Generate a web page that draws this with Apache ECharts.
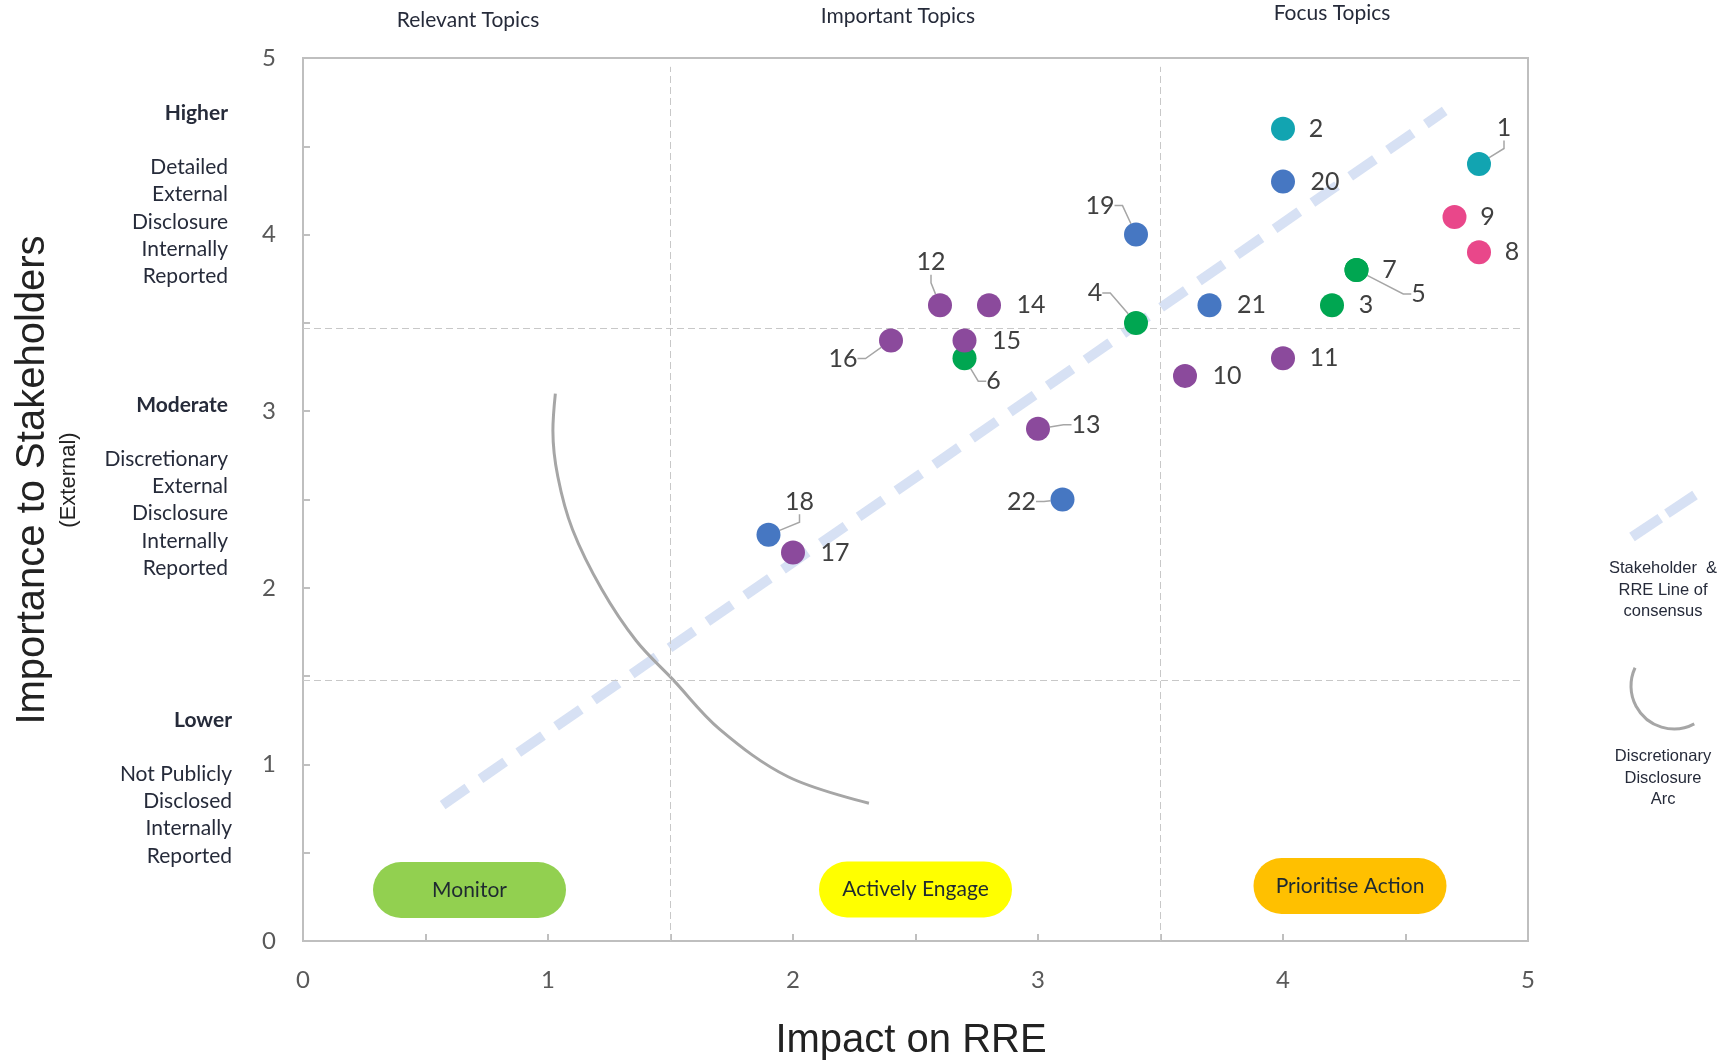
<!DOCTYPE html>
<html>
<head>
<meta charset="utf-8">
<title>Materiality matrix</title>
<script src="https://cdn.jsdelivr.net/npm/echarts@6.0.0/dist/echarts.min.js"></script>
<style>
  html, body { margin: 0; padding: 0; background: #fff; }
  #chart { width: 1726px; height: 1064px; }
</style>
</head>
<body>
<div id="chart"></div>
<script>
// topics
const topicIds   = [1, 2, 3, 4, 5, 6, 7, 8, 9, 10, 11, 12, 13, 14, 15, 16, 17, 18, 19, 20, 21, 22]
const impact     = [4.8, 4.0, 4.2, 3.4, 4.3, 2.7, 4.3, 4.8, 4.7, 3.6, 4.0, 2.6, 3.0, 2.8, 2.7, 2.4, 2.0, 1.9, 3.4, 4.0, 3.7, 3.1]
const importance = [4.4, 4.6, 3.6, 3.5, 3.8, 3.3, 3.8, 3.9, 4.1, 3.2, 3.3, 3.6, 2.9, 3.6, 3.4, 3.4, 2.2, 2.3, 4.0, 4.3, 3.6, 2.5]
const topicGroup = ["teal", "teal", "green", "green", "green", "green", "green", "pink", "pink",
    "purple", "purple", "purple", "purple", "purple", "purple", "purple", "purple",
    "blue", "blue", "blue", "blue", "blue"]

// line of consensus and discretionary disclosure arc
const consensusX = [0.57, 4.66]
const consensusY = [0.77, 4.70]
const arcX = [1.03, 1.02, 1.04, 1.10, 1.22, 1.36, 1.51, 1.70, 1.98, 2.31]
const arcY = [3.10, 2.89, 2.63, 2.33, 1.99, 1.70, 1.48, 1.20, 0.93, 0.78]

// quadrant dividers
const dividerX = [1.5, 3.5]
const dividerY = [1.475, 3.47]

const axisTicks = [0, 1, 2, 3, 4, 5]

// styling
const groupColors = {blue: "#4677c2", teal: "#12a4b1", pink: "#e9478a", green: "#00a651", purple: "#8b4a9c"}
const drawOrder = ["blue", "teal", "pink", "green", "purple"]
const leaderIds = [1, 4, 5, 6, 12, 13, 16, 18, 19, 22]
const labelOffsets = {
    1: [25, -36], 2: [33, 0], 3: [34, 0], 4: [-41, -30], 5: [62, 24], 6: [29, 23],
    7: [33, 0], 8: [33, 0], 9: [33, 0], 10: [42, 0], 11: [41, 0], 12: [-9, -43],
    13: [48, -4], 14: [42, 0], 15: [42, 0], 16: [-48, 18], 17: [42, 0], 18: [31, -33],
    19: [-36, -29], 20: [42, 0], 21: [42, 0], 22: [-41, 2]
}
const textColor = "#262b3a"

const pointSeries = drawOrder.map(g => ({
    type: "scatter",
    name: g,
    symbolSize: 24,
    itemStyle: {color: groupColors[g], opacity: 1},
    label: {
        show: true,
        position: "inside",
        formatter: p => p.value[2],
        color: "#404040",
        fontFamily: "Lato",
        fontSize: 25,
        textBorderWidth: 0
    },
    labelLine: {show: true, length2: 8, lineStyle: {color: "#a6a6a6", width: 1.5}},
    labelLayout: p => {
        const o = labelOffsets[p.text] || [0, 0]
        return {dx: o[0], dy: o[1]}
    },
    emphasis: {disabled: true},
    z: 5,
    data: topicIds
        .map((id, i) => ({id, i}))
        .filter(d => topicGroup[d.i] === g)
        .map(d => ({
            value: [impact[d.i], importance[d.i], d.id],
            labelLine: {show: leaderIds.includes(d.id)}
        }))
}))

const axisCommon = {
    type: "value",
    min: 0,
    max: 5,
    interval: 1,
    axisLine: {show: true, onZero: false, lineStyle: {color: "#bfbfbf", width: 2}},
    axisTick: {show: true, inside: true, length: 7, lineStyle: {color: "#bfbfbf", width: 2}},
    minorTick: {show: true, splitNumber: 2, length: 7, lineStyle: {color: "#bfbfbf", width: 2}},
    splitLine: {show: false},
    axisLabel: {
        color: "#595959", fontFamily: "Lato", fontSize: 24, margin: 27,
        formatter: v => axisTicks.includes(v) ? String(v) : ""
    }
}

function textBlock (text, x, y, opts) {
    return {
        type: "text",
        x, y,
        silent: true,
        style: Object.assign({
            text,
            fontFamily: "Lato",
            fontSize: 21,
            fill: textColor,
            align: "right",
            verticalAlign: "top",
            lineHeight: 27.3
        }, opts || {})
    }
}

function pill (text, cx, cy, fill) {
    return {
        type: "group",
        x: cx, y: cy,
        silent: true,
        children: [
            {type: "rect", shape: {x: -96.5, y: -28, width: 193, height: 56, r: 28}, style: {fill}},
            {type: "text", style: {text, x: 0, y: 0, align: "center", verticalAlign: "middle",
                fontFamily: "Lato", fontSize: 21, fill: "#1f2a30"}}
        ]
    }
}

const graphics = [
    // column headings
    textBlock("Relevant Topics", 468, 20, {align: "center", verticalAlign: "middle"}),
    textBlock("Important Topics", 898, 16.5, {align: "center", verticalAlign: "middle"}),
    textBlock("Focus Topics", 1332, 13, {align: "center", verticalAlign: "middle"}),
    // row descriptions
    textBlock("Higher", 228, 100, {fontWeight: "bold"}),
    textBlock("Detailed\nExternal\nDisclosure\nInternally\nReported", 228, 153.6),
    textBlock("Moderate", 228, 391.5, {fontWeight: "bold"}),
    textBlock("Discretionary\nExternal\nDisclosure\nInternally\nReported", 228, 445.4),
    textBlock("Lower", 232, 706.5, {fontWeight: "bold"}),
    textBlock("Not Publicly\nDisclosed\nInternally\nReported", 232, 760.4),
    // axis titles
    {type: "text", x: 911, y: 1041, silent: true, style: {text: "Impact on RRE", fontFamily: "Liberation Sans",
        fontSize: 40, fill: "#222", align: "center", verticalAlign: "middle"}},
    {type: "text", x: 33, y: 480, rotation: Math.PI / 2, silent: true, style: {text: "Importance to Stakeholders",
        fontFamily: "Liberation Sans", fontSize: 40, fill: "#222", align: "center", verticalAlign: "middle"}},
    {type: "text", x: 69, y: 480, rotation: Math.PI / 2, silent: true, style: {text: "(External)",
        fontFamily: "Liberation Sans", fontSize: 22, fill: "#222", align: "center", verticalAlign: "middle"}},
    // action pills
    pill("Monitor", 469.5, 890, "#92d050"),
    pill("Actively Engage", 915.5, 889.5, "#ffff00"),
    pill("Prioritise Action", 1350, 886, "#ffc000"),
    // key on the right
    {type: "line", silent: true, shape: {x1: 1632, y1: 537, x2: 1695, y2: 495},
        style: {stroke: "#d7e1f4", lineWidth: 10, lineDash: [34, 8]}},
    {type: "text", x: 1663, y: 558, silent: true, style: {text: "Stakeholder  &\nRRE Line of\nconsensus",
        fontFamily: "Liberation Sans", fontSize: 16.5, lineHeight: 21.5, fill: textColor, align: "center", verticalAlign: "top"}},
    {type: "arc", silent: true, shape: {cx: 1674, cy: 686, r: 43, startAngle: 1.08, endAngle: 3.58, clockwise: true},
        style: {stroke: "#a6a6a6", lineWidth: 3, fill: null}},
    {type: "text", x: 1663, y: 746, silent: true, style: {text: "Discretionary\nDisclosure\nArc",
        fontFamily: "Liberation Sans", fontSize: 16.5, lineHeight: 21.5, fill: textColor, align: "center", verticalAlign: "top"}}
]

const option = {
    animation: false,
    backgroundColor: "#fff",
    grid: {
        left: 303, top: 58, width: 1225, height: 883,
        show: true, borderColor: "#bfbfbf", borderWidth: 2,
        containLabel: false, outerBoundsMode: "none"
    },
    xAxis: axisCommon,
    yAxis: axisCommon,
    graphic: graphics,
    series: [
        {
            type: "line",
            name: "consensus",
            data: consensusX.map((x, i) => [x, consensusY[i]]),
            symbol: "none",
            silent: true,
            z: 1,
            lineStyle: {color: "#d7e1f4", width: 10, type: [30, 16], cap: "butt"},
            markLine: {
                silent: true,
                symbol: ["none", "none"],
                label: {show: false},
                lineStyle: {type: [7, 4], color: "#c8c8c8", width: 1},
                data: [
                    ...dividerX.map(x => [{coord: [x, 0]}, {coord: [x, 4.95]}]),
                    ...dividerY.map(y => [{coord: [0, y]}, {coord: [4.975, y]}])
                ]
            }
        },
        {
            type: "line",
            name: "arc",
            data: arcX.map((x, i) => [x, arcY[i]]),
            symbol: "none",
            smooth: 0.35,
            smoothConstraint: false,
            silent: true,
            z: 2,
            lineStyle: {color: "#a6a6a6", width: 3}
        },
        ...pointSeries
    ]
}

const chart = echarts.init(document.getElementById("chart"))
chart.setOption(option)
window.addEventListener("resize", () => chart.resize())
</script>
</body>
</html>
